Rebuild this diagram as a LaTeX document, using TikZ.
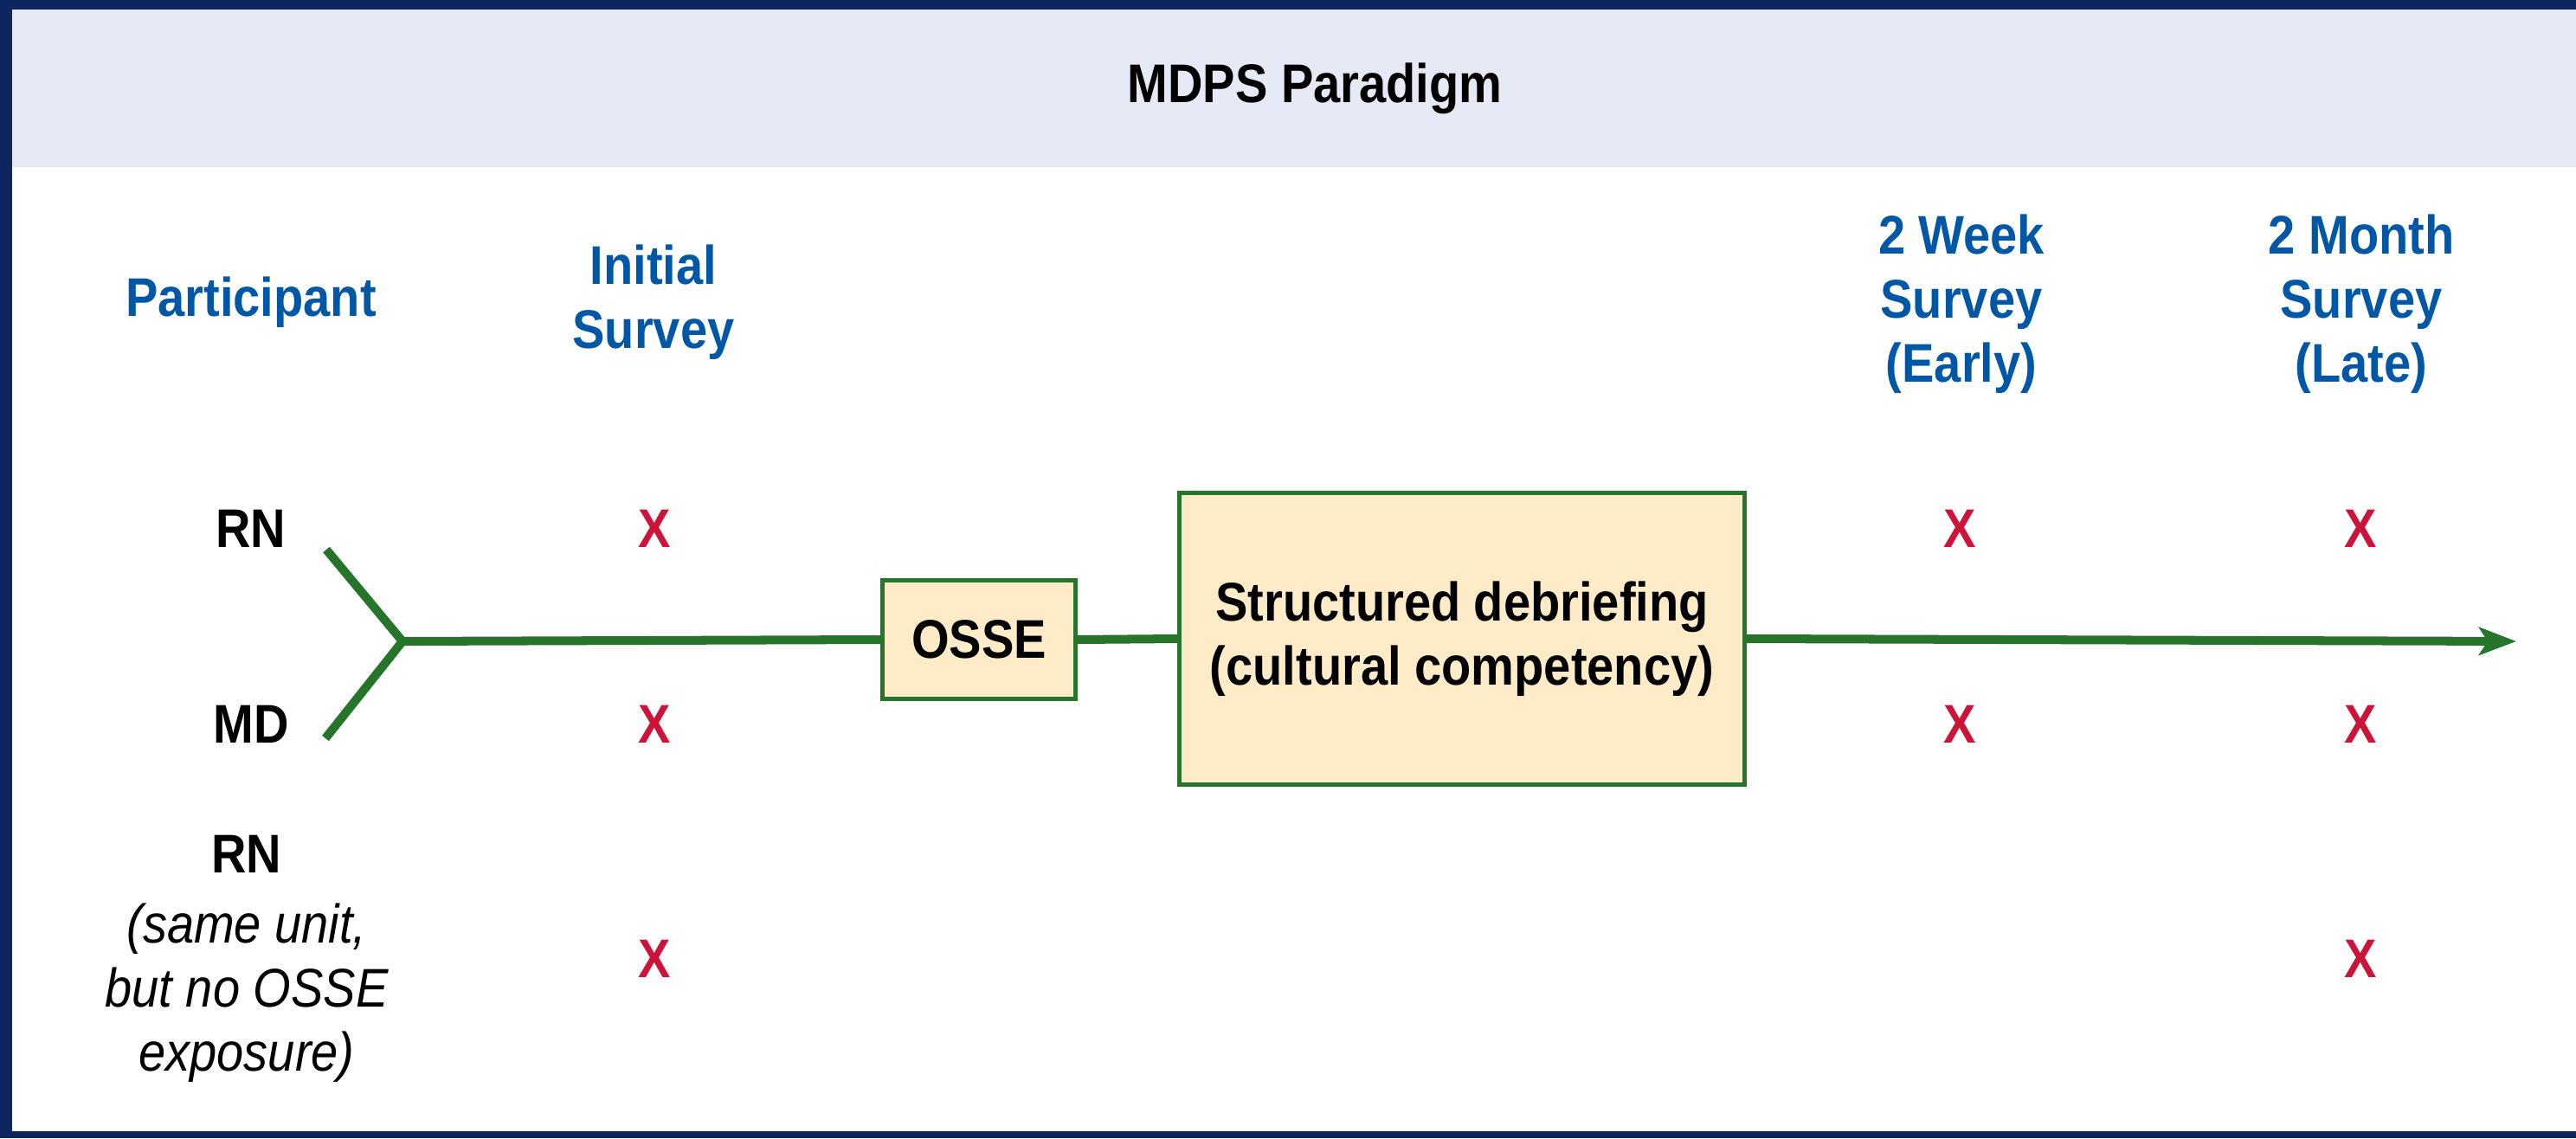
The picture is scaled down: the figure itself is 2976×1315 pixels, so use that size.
\documentclass[tikz,border=0pt]{standalone}
\usepackage{fontspec}
\setmainfont{Liberation Sans}[FakeStretch=0.89]
\usetikzlibrary{arrows.meta}
\definecolor{navy}{RGB}{14,38,96}
\definecolor{bandblue}{RGB}{229,234,246}
\definecolor{headblue}{RGB}{0,87,165}
\definecolor{lgreen}{RGB}{38,117,43}
\definecolor{cream}{RGB}{254,236,200}
\definecolor{xred}{RGB}{204,19,57}
\begin{document}
\begin{tikzpicture}[x=0.01cm, y=-0.01cm]
    \tikzset{>={Stealth[length=0.43cm,width=0.32cm,inset=0.1cm]}}
    \tikzset{every node/.style={font=\fontsize{17.9}{21}\selectfont\bfseries, inner sep=0pt, align=center}}
    \tikzset{hdr/.style={text=headblue}}
    \tikzset{xmark/.style={text=xred}}
    \tikzset{procbox/.style={draw=lgreen, line width=1.42pt, fill=cream}}
    \tikzset{flow/.style={draw=lgreen, line width=2.85pt}}
    \useasboundingbox (0,0) rectangle (2976,1315);
    % frame and title band
    \fill[navy] (0,0) rectangle (2976,1315);
    \fill[white] (14,11) rectangle (2976,1307);
    \fill[bandblue] (14,11) rectangle (2976,193);
    \node (title) at (1519,102) {MDPS Paradigm};
    % column heads
    \node[hdr] (part) at (290,349) {Participant};
    \node[hdr] (init) at (755,349) {Initial\\Survey};
    \node[hdr] (early) at (2266,351) {2 Week\\Survey\\(Early)};
    \node[hdr] (late) at (2728,351) {2 Month\\Survey\\(Late)};
    % rows
    \node (rn) at (290,611) {RN};
    \node (md) at (290,837) {MD};
    \node (ctl) at (285,1108) {RN\\[2pt]\mdseries\itshape (same unit,\\\mdseries\itshape but no OSSE\\\mdseries\itshape exposure)};
    % survey marks
    \node[xmark] (x1) at (756,611) {X};
    \node[xmark] (x2) at (756,837) {X};
    \node[xmark] (x3) at (756,1108) {X};
    \node[xmark] (x4) at (2264,611) {X};
    \node[xmark] (x5) at (2264,837) {X};
    \node[xmark] (x6) at (2727,611) {X};
    \node[xmark] (x7) at (2727,837) {X};
    \node[xmark] (x8) at (2727,1108) {X};
    % intervention boxes
    \node[procbox, minimum width=2.23cm, minimum height=1.37cm] (osse) at (1131,739) {OSSE};
    \node[procbox, minimum width=6.52cm, minimum height=3.37cm] (deb) at (1689,738) {Structured debriefing\\(cultural competency)};
    % flow line
    \coordinate (a) at (377,635);
    \coordinate (c) at (376,853);
    \coordinate (j) at (465,741);
    \coordinate (t) at (2907,741);
    \draw[flow] (a) -- (j) -- (c);
    \draw[flow] (j) -- (osse.west);
    \draw[flow] (osse.east) -- (deb.west);
    \draw[flow,->] (deb.east) -- (t);
\end{tikzpicture}
\end{document}
